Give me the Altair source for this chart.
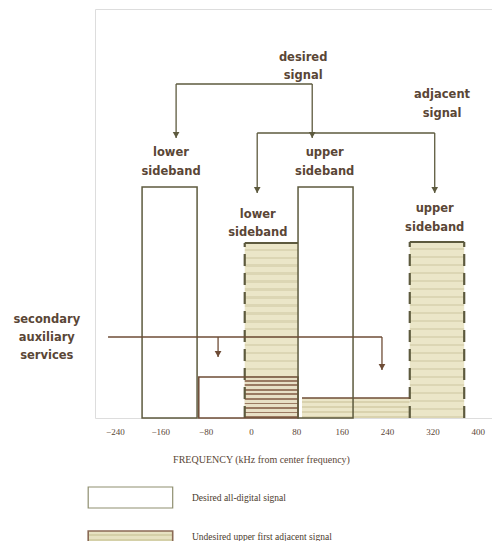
import altair as alt
import pandas as pd

# ---------------- data (kHz / relative level) ----------------
tick_values = [-240, -160, -80, 0, 80, 160, 240, 320, 400]

# desired all-digital signal: main sidebands
desired_x0 = [-192, 83]
desired_x1 = [-95, 180]
desired_top = [231, 231]
# desired secondary (low level, between sidebands)
desired_sec_x0 = [-92]
desired_sec_x1 = [83]
desired_sec_top = [41]

# undesired upper first adjacent signal
adj_x0 = [-11, 280]
adj_x1 = [83, 376]
adj_top = [175, 176]
adj_sec_x0 = [90]
adj_sec_x1 = [280]
adj_sec_top = [20]

# annotation leader lines (x, y, x2, y2)
lead_x = [-132, -132, 108, 11, 11, 324]
lead_y = [334, 334, 334, 285, 285, 285]
lead_x2 = [108, -132, 108, 324, 11, 324]
lead_y2 = [334, 280, 280, 285, 225, 225]
arrow_x = [-132, 108, 11, 324]
arrow_y = [283, 283, 228, 228]

aux_x = [-252, -58, 231]
aux_y = [81, 81, 81]
aux_x2 = [231, -58, 231]
aux_y2 = [81, 61, 48]
aux_arrow_x = [-58, 231]
aux_arrow_y = [64, 51]

labels_text = [
    "desired", "signal",
    "lower", "sideband",
    "upper", "sideband",
    "adjacent", "signal",
    "lower", "sideband",
    "upper", "sideband",
    "secondary", "auxiliary", "services",
]
labels_x = [92, 92, -141, -141, 130, 130, 337, 337, 12, 12, 324, 324, -360, -360, -360]
labels_y = [360, 342, 265, 246, 265, 246, 323, 304, 203, 185, 209, 190, 98, 80, 62]

legend_text = ["Desired all-digital signal", "Undesired upper first adjacent signal"]
legend_box_x0 = [-287, -287]
legend_box_x1 = [-138, -138]
legend_box_y0 = [-90, -134]
legend_box_y1 = [-69, -113]
legend_text_x = [-104, -104]
legend_text_y = [-80, -119]

# ---------------- styles ----------------
LINE = "#5d5a3e"
BROWN = "#6e4c36"
TEXT = "#5a4636"
BEIGE = "#ebe6c8"


def stripes(c1, c2, n, frac=0.5):
    stops = []
    for i in range(n):
        a = i / n
        b = (i + frac) / n
        c = (i + 1) / n
        stops += [alt.GradientStop(color=c1, offset=a), alt.GradientStop(color=c1, offset=b),
                  alt.GradientStop(color=c2, offset=b), alt.GradientStop(color=c2, offset=c)]
    return alt.Gradient(gradient="linear", x1=0, y1=0, x2=0, y2=1, stops=stops)


xs = alt.Scale(domain=[-275, 425], nice=False, zero=False)
ys = alt.Scale(domain=[0, 409], nice=False, zero=False)

X = lambda f: alt.X(f, type="quantitative", scale=xs,
                    axis=alt.Axis(values=tick_values, domain=False, ticks=False, grid=False,
                                  labelFont="Liberation Serif", labelFontSize=9, labelColor=TEXT,
                                  labelPadding=9, title="FREQUENCY (kHz from center frequency)",
                                  titleFont="Liberation Serif", titleFontSize=10,
                                  titleFontWeight="normal", titleColor=TEXT,
                                  titleX=166, titleY=36, titleAnchor="start", titleAlign="center"))
Y = lambda f: alt.Y(f, type="quantitative", scale=ys, axis=None)

desired = pd.DataFrame({"x0": desired_x0, "x1": desired_x1, "top": desired_top, "b": 0})
dsec = pd.DataFrame({"x0": desired_sec_x0, "x1": desired_sec_x1, "top": desired_sec_top, "b": 0})
adj = pd.DataFrame({"x0": adj_x0, "x1": adj_x1, "top": adj_top, "b": 0})
asec = pd.DataFrame({"x0": adj_sec_x0, "x1": adj_sec_x1, "top": adj_sec_top, "b": 0})

desired_fill = alt.Chart(desired).mark_rect(fill="white").encode(
    x=X("x0"), x2="x1", y=Y("b"), y2="top")
adj_fill = alt.Chart(adj).mark_rect(fill=stripes(BEIGE, "#dcd6b4", 22, 0.7)).encode(
    x=X("x0"), x2="x1", y=Y("b"), y2="top")
asec_fill = alt.Chart(asec).mark_rect(fill=stripes(BEIGE, "#d9d2ae", 4, 0.6)).encode(
    x=X("x0"), x2="x1", y=Y("b"), y2="top")
overlap = pd.DataFrame({"x0": [max(adj_x0[0], desired_sec_x0[0])], "x1": [desired_sec_x1[0]],
                        "top": desired_sec_top, "b": 0})
overlap_fill = alt.Chart(overlap).mark_rect(fill=stripes("#e8e0c6", "#9a7a62", 9, 0.6)).encode(
    x=X("x0"), x2="x1", y=Y("b"), y2="top")

adj_left = alt.Chart(adj).mark_rule(color=LINE, strokeWidth=2.2, strokeDash=[12, 7]).encode(
    x=X("x0"), y=Y("b"), y2="top")
adj_right = alt.Chart(adj.iloc[[1]]).mark_rule(color=LINE, strokeWidth=2.2, strokeDash=[12, 7]).encode(
    x=X("x1"), y=Y("b"), y2="top")
adj_topline = alt.Chart(adj).mark_rule(color=LINE, strokeWidth=2).encode(
    x=X("x0"), x2="x1", y=Y("top"))
asec_top = alt.Chart(asec).mark_rule(color=BROWN, strokeWidth=1.6).encode(
    x=X("x0"), x2="x1", y=Y("top"))

dsec_box = alt.Chart(dsec).mark_rect(fill=None, fillOpacity=0, stroke=BROWN, strokeWidth=1.5).encode(
    x=X("x0"), x2="x1", y=Y("b"), y2="top")
desired_box = alt.Chart(desired).mark_rect(fill=None, fillOpacity=0, stroke=LINE, strokeWidth=1.5).encode(
    x=X("x0"), x2="x1", y=Y("b"), y2="top")

leads = pd.DataFrame({"x": lead_x, "y": lead_y, "x2": lead_x2, "y2": lead_y2})
lead_lines = alt.Chart(leads).mark_rule(color=LINE, strokeWidth=1.3).encode(
    x=X("x"), x2="x2", y=Y("y"), y2="y2")
arrows = pd.DataFrame({"x": arrow_x, "y": arrow_y})
arrow_heads = alt.Chart(arrows).mark_point(shape="triangle-down", filled=True, color=LINE,
                                           size=45, opacity=1).encode(x=X("x"), y=Y("y"))

aux = pd.DataFrame({"x": aux_x, "y": aux_y, "x2": aux_x2, "y2": aux_y2})
aux_lines = alt.Chart(aux).mark_rule(color=BROWN, strokeWidth=1.3).encode(
    x=X("x"), x2="x2", y=Y("y"), y2="y2")
auxa = pd.DataFrame({"x": aux_arrow_x, "y": aux_arrow_y})
aux_heads = alt.Chart(auxa).mark_point(shape="triangle-down", filled=True, color=BROWN,
                                       size=45, opacity=1).encode(x=X("x"), y=Y("y"))

labels = pd.DataFrame({"t": labels_text, "x": labels_x, "y": labels_y})
label_marks = alt.Chart(labels).mark_text(font="DejaVu Sans", fontSize=11.5, fontWeight="bold",
                                          color=TEXT, align="center", baseline="middle").encode(
    x=X("x"), y=Y("y"), text="t")

leg = pd.DataFrame({"x0": legend_box_x0, "x1": legend_box_x1, "y0": legend_box_y0,
                    "y1": legend_box_y1, "tx": legend_text_x, "ty": legend_text_y, "t": legend_text})
leg_box1 = alt.Chart(leg.iloc[[0]]).mark_rect(fill="white", stroke="#8f8f70", strokeWidth=1.2).encode(
    x=X("x0"), x2="x1", y=Y("y0"), y2="y1")
leg_box2 = alt.Chart(leg.iloc[[1]]).mark_rect(fill=stripes("#e6e2c2", "#d4d0a8", 4, 0.6),
                                              stroke="#8a6a55", strokeWidth=1.6).encode(
    x=X("x0"), x2="x1", y=Y("y0"), y2="y1")
leg_text = alt.Chart(leg).mark_text(font="Liberation Serif", fontSize=9.5, color="#4a3a2c",
                                    align="left", baseline="middle").encode(
    x=X("tx"), y=Y("ty"), text="t")

chart = alt.layer(
    desired_fill, adj_fill, asec_fill, overlap_fill, adj_left, adj_right, adj_topline, asec_top,
    dsec_box, desired_box, lead_lines, arrow_heads, aux_lines, aux_heads, label_marks,
    leg_box1, leg_box2, leg_text,
).properties(
    width=397, height=409, autosize="none",
    padding={"left": 87, "top": 1, "right": 0, "bottom": 123},
).configure_view(stroke="#6b6046", strokeWidth=1.5).configure(background="white")

chart.save("out.html", embed_options={"renderer": "svg", "actions": False})
